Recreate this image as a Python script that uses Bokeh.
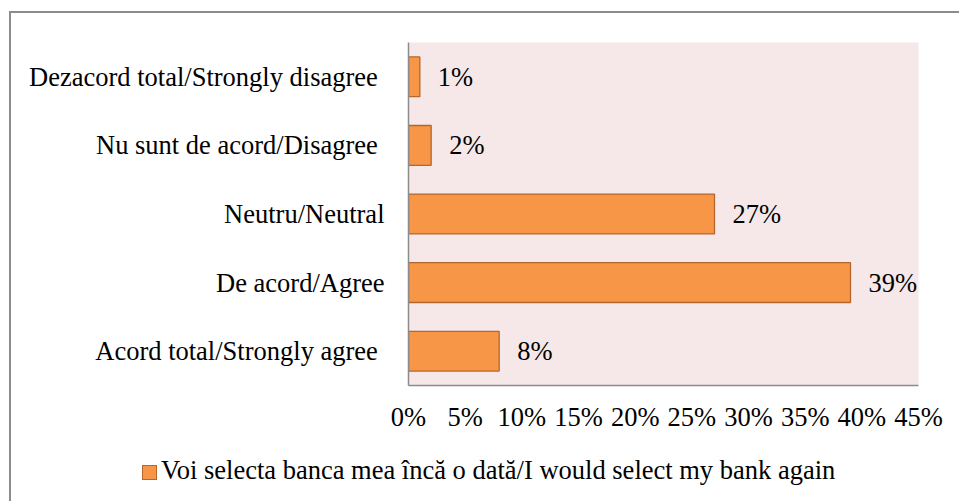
from bokeh.plotting import figure
from bokeh.layouts import column
from bokeh.models import (FactorRange, Range1d, FixedTicker, PrintfTickFormatter,
                          ColumnDataSource, Div)
from bokeh.core.properties import value
from bokeh.embed import file_html
from bokeh.resources import INLINE

categories = ["Dezacord total/Strongly disagree ", "Nu sunt de acord/Disagree ",
              "Neutru/Neutral", "De acord/Agree", "Acord total/Strongly agree "]
values = [1, 2, 27, 39, 8]
labels = ["1%", "2%", "27%", "39%", "8%"]
ticks = [0, 5, 10, 15, 20, 25, 30, 35, 40, 45]
series_name = "Voi selecta banca mea încă o dată/I would select my bank again"

FONT = "Liberation Serif"
FS = "26.5px"
BAR_FILL = "#F79646"
BAR_LINE = "#B5662B"

# canvas starts at page x=11, y=13 (margin + border of the wrapping column)
p = figure(width=948, height=427, output_backend="svg", toolbar_location=None,
           y_range=FactorRange(factors=list(reversed(categories)), range_padding=0),
           x_range=Range1d(0, 45),
           min_border_left=397, min_border_right=41, min_border_top=29, min_border_bottom=55)
p.background_fill_color = "#F6E8E8"
p.border_fill_color = "white"
p.outline_line_color = None
p.xgrid.visible = False
p.ygrid.visible = False

src = ColumnDataSource(dict(cat=categories, val=values, lab=labels))
p.hbar(y="cat", right="val", left=0, height=0.58, source=src,
       fill_color=BAR_FILL, line_color=BAR_LINE, line_width=1.3)
p.text(x="val", y="cat", text="lab", source=src, x_offset=18,
       text_align="left", text_baseline="middle", text_font=value(FONT),
       text_font_size=FS, text_color="black")

for ax in (p.xaxis[0], p.yaxis[0]):
    ax.axis_line_color = "#8C8C8C"
    ax.axis_line_width = 1.5
    ax.major_tick_line_color = None
    ax.minor_tick_line_color = None
    ax.major_label_text_font = FONT
    ax.major_label_text_font_size = FS
    ax.major_label_text_color = "black"

p.xaxis[0].ticker = FixedTicker(ticks=ticks)
p.xaxis[0].formatter = PrintfTickFormatter(format="%d%%")
p.xaxis[0].major_label_standoff = 10
p.yaxis[0].major_label_standoff = 18

legend_html = (
    '<div style="font-family:\'%s\';font-size:%s;color:black;line-height:30px;'
    'padding:10px 0 0 126px;white-space:nowrap;">'
    '<span style="display:inline-block;box-sizing:border-box;width:15px;height:15px;background:%s;'
    'border:1.3px solid %s;margin-right:4px;vertical-align:-1px;"></span>%s</div>'
    % (FONT, FS, BAR_FILL, BAR_LINE, series_name)
)
legend_div = Div(text=legend_html, width=948, height=61)

layout = column(p, legend_div, spacing=0,
                styles={"margin-left": "9px", "margin-top": "11px",
                        "border-left": "2px solid #8C8C8C", "border-top": "2px solid #8C8C8C"})

open("out.html", "w").write(file_html(layout, INLINE))
